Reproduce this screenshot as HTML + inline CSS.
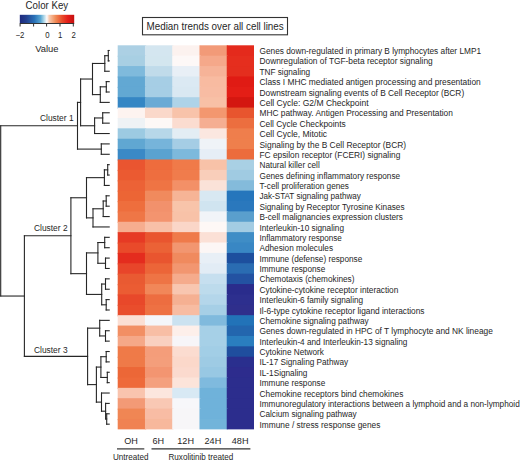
<!DOCTYPE html>
<html><head><meta charset="utf-8"><style>
html,body{margin:0;padding:0;background:#fff;}
body{width:520px;height:462px;overflow:hidden;}
svg{display:block;}
text{font-family:"Liberation Sans",sans-serif;fill:#262626;}
</style></head><body>
<svg width="520" height="462" viewBox="0 0 520 462">
<defs>
<linearGradient id="ck" x1="0" x2="1" y1="0" y2="0">
<stop offset="0" stop-color="#1e2a7e"/>
<stop offset="0.12" stop-color="#23408f"/>
<stop offset="0.27" stop-color="#2a72b8"/>
<stop offset="0.38" stop-color="#58a6d2"/>
<stop offset="0.45" stop-color="#b8dcea"/>
<stop offset="0.49" stop-color="#f4f6f8"/>
<stop offset="0.51" stop-color="#fbeee8"/>
<stop offset="0.54" stop-color="#f8cbb0"/>
<stop offset="0.66" stop-color="#f08a55"/>
<stop offset="0.78" stop-color="#e84a2a"/>
<stop offset="0.88" stop-color="#e41e1a"/>
<stop offset="1" stop-color="#c41010"/>
</linearGradient>
</defs>

<rect x="117.70" y="45.30" width="28.46" height="11.58" fill="#acd0e4"/>
<rect x="144.96" y="45.30" width="28.46" height="11.58" fill="#d4e6f0"/>
<rect x="172.22" y="45.30" width="28.46" height="11.58" fill="#fcf2ef"/>
<rect x="199.48" y="45.30" width="28.46" height="11.58" fill="#f29a78"/>
<rect x="226.74" y="45.30" width="27.26" height="11.58" fill="#e42a1c"/>
<rect x="117.70" y="55.68" width="28.46" height="11.58" fill="#a8cfe3"/>
<rect x="144.96" y="55.68" width="28.46" height="11.58" fill="#d3e6ef"/>
<rect x="172.22" y="55.68" width="28.46" height="11.58" fill="#fdf8f7"/>
<rect x="199.48" y="55.68" width="28.46" height="11.58" fill="#f5a88a"/>
<rect x="226.74" y="55.68" width="27.26" height="11.58" fill="#e52e1e"/>
<rect x="117.70" y="66.06" width="28.46" height="11.58" fill="#7fbadc"/>
<rect x="144.96" y="66.06" width="28.46" height="11.58" fill="#c0dbea"/>
<rect x="172.22" y="66.06" width="28.46" height="11.58" fill="#e8eff6"/>
<rect x="199.48" y="66.06" width="28.46" height="11.58" fill="#f6b398"/>
<rect x="226.74" y="66.06" width="27.26" height="11.58" fill="#e42e1e"/>
<rect x="117.70" y="76.44" width="28.46" height="11.58" fill="#62a8d3"/>
<rect x="144.96" y="76.44" width="28.46" height="11.58" fill="#a6cee5"/>
<rect x="172.22" y="76.44" width="28.46" height="11.58" fill="#dbe9f3"/>
<rect x="199.48" y="76.44" width="28.46" height="11.58" fill="#f8bba1"/>
<rect x="226.74" y="76.44" width="27.26" height="11.58" fill="#e01b14"/>
<rect x="117.70" y="86.82" width="28.46" height="11.58" fill="#62a8d3"/>
<rect x="144.96" y="86.82" width="28.46" height="11.58" fill="#a6cee5"/>
<rect x="172.22" y="86.82" width="28.46" height="11.58" fill="#d9e8f2"/>
<rect x="199.48" y="86.82" width="28.46" height="11.58" fill="#f8bca3"/>
<rect x="226.74" y="86.82" width="27.26" height="11.58" fill="#e31e16"/>
<rect x="117.70" y="97.20" width="28.46" height="11.58" fill="#3586c4"/>
<rect x="144.96" y="97.20" width="28.46" height="11.58" fill="#6aaad5"/>
<rect x="172.22" y="97.20" width="28.46" height="11.58" fill="#aed3e8"/>
<rect x="199.48" y="97.20" width="28.46" height="11.58" fill="#f8c0a6"/>
<rect x="226.74" y="97.20" width="27.26" height="11.58" fill="#d41710"/>
<rect x="117.70" y="107.58" width="28.46" height="11.58" fill="#fdf3f0"/>
<rect x="144.96" y="107.58" width="28.46" height="11.58" fill="#fad8ca"/>
<rect x="172.22" y="107.58" width="28.46" height="11.58" fill="#f8c3aa"/>
<rect x="199.48" y="107.58" width="28.46" height="11.58" fill="#f3976f"/>
<rect x="226.74" y="107.58" width="27.26" height="11.58" fill="#e8552e"/>
<rect x="117.70" y="117.96" width="28.46" height="11.58" fill="#eef2f5"/>
<rect x="144.96" y="117.96" width="28.46" height="11.58" fill="#fdf8f6"/>
<rect x="172.22" y="117.96" width="28.46" height="11.58" fill="#fbdcd0"/>
<rect x="199.48" y="117.96" width="28.46" height="11.58" fill="#f5ae92"/>
<rect x="226.74" y="117.96" width="27.26" height="11.58" fill="#ec6e3f"/>
<rect x="117.70" y="128.34" width="28.46" height="11.58" fill="#9ccae2"/>
<rect x="144.96" y="128.34" width="28.46" height="11.58" fill="#b7d7e9"/>
<rect x="172.22" y="128.34" width="28.46" height="11.58" fill="#e3edf4"/>
<rect x="199.48" y="128.34" width="28.46" height="11.58" fill="#fbe7e0"/>
<rect x="226.74" y="128.34" width="27.26" height="11.58" fill="#ef7e4c"/>
<rect x="117.70" y="138.72" width="28.46" height="11.58" fill="#60a7d2"/>
<rect x="144.96" y="138.72" width="28.46" height="11.58" fill="#76b4da"/>
<rect x="172.22" y="138.72" width="28.46" height="11.58" fill="#a5cde5"/>
<rect x="199.48" y="138.72" width="28.46" height="11.58" fill="#eff3f7"/>
<rect x="226.74" y="138.72" width="27.26" height="11.58" fill="#ef7f4c"/>
<rect x="117.70" y="149.10" width="28.46" height="11.58" fill="#3a89c6"/>
<rect x="144.96" y="149.10" width="28.46" height="11.58" fill="#5aa2d0"/>
<rect x="172.22" y="149.10" width="28.46" height="11.58" fill="#7db9dc"/>
<rect x="199.48" y="149.10" width="28.46" height="11.58" fill="#e6eef6"/>
<rect x="226.74" y="149.10" width="27.26" height="11.58" fill="#ec6c3c"/>
<rect x="117.70" y="159.48" width="28.46" height="11.58" fill="#ea5530"/>
<rect x="144.96" y="159.48" width="28.46" height="11.58" fill="#ee6c3d"/>
<rect x="172.22" y="159.48" width="28.46" height="11.58" fill="#f07a49"/>
<rect x="199.48" y="159.48" width="28.46" height="11.58" fill="#f8c2a8"/>
<rect x="226.74" y="159.48" width="27.26" height="11.58" fill="#a9d0e4"/>
<rect x="117.70" y="169.86" width="28.46" height="11.58" fill="#eb5a31"/>
<rect x="144.96" y="169.86" width="28.46" height="11.58" fill="#ee6e3f"/>
<rect x="172.22" y="169.86" width="28.46" height="11.58" fill="#f07c4c"/>
<rect x="199.48" y="169.86" width="28.46" height="11.58" fill="#f9ceba"/>
<rect x="226.74" y="169.86" width="27.26" height="11.58" fill="#a0cbe2"/>
<rect x="117.70" y="180.24" width="28.46" height="11.58" fill="#ec6236"/>
<rect x="144.96" y="180.24" width="28.46" height="11.58" fill="#ef7444"/>
<rect x="172.22" y="180.24" width="28.46" height="11.58" fill="#f39067"/>
<rect x="199.48" y="180.24" width="28.46" height="11.58" fill="#fae2d8"/>
<rect x="226.74" y="180.24" width="27.26" height="11.58" fill="#84bbdb"/>
<rect x="117.70" y="190.62" width="28.46" height="11.58" fill="#ec6535"/>
<rect x="144.96" y="190.62" width="28.46" height="11.58" fill="#f08a5d"/>
<rect x="172.22" y="190.62" width="28.46" height="11.58" fill="#f6b496"/>
<rect x="199.48" y="190.62" width="28.46" height="11.58" fill="#d8e8f2"/>
<rect x="226.74" y="190.62" width="27.26" height="11.58" fill="#2676bc"/>
<rect x="117.70" y="201.00" width="28.46" height="11.58" fill="#ee6e3d"/>
<rect x="144.96" y="201.00" width="28.46" height="11.58" fill="#f2916c"/>
<rect x="172.22" y="201.00" width="28.46" height="11.58" fill="#f8c4aa"/>
<rect x="199.48" y="201.00" width="28.46" height="11.58" fill="#d0e4f0"/>
<rect x="226.74" y="201.00" width="27.26" height="11.58" fill="#2a78bd"/>
<rect x="117.70" y="211.38" width="28.46" height="11.58" fill="#ef7646"/>
<rect x="144.96" y="211.38" width="28.46" height="11.58" fill="#f3946f"/>
<rect x="172.22" y="211.38" width="28.46" height="11.58" fill="#f8c2a8"/>
<rect x="199.48" y="211.38" width="28.46" height="11.58" fill="#f1f4f8"/>
<rect x="226.74" y="211.38" width="27.26" height="11.58" fill="#5a9fcd"/>
<rect x="117.70" y="221.76" width="28.46" height="11.58" fill="#f6ad8f"/>
<rect x="144.96" y="221.76" width="28.46" height="11.58" fill="#f8c0a8"/>
<rect x="172.22" y="221.76" width="28.46" height="11.58" fill="#fad6c8"/>
<rect x="199.48" y="221.76" width="28.46" height="11.58" fill="#fef8f6"/>
<rect x="226.74" y="221.76" width="27.26" height="11.58" fill="#a3cce3"/>
<rect x="117.70" y="232.14" width="28.46" height="11.58" fill="#e63a24"/>
<rect x="144.96" y="232.14" width="28.46" height="11.58" fill="#e9552f"/>
<rect x="172.22" y="232.14" width="28.46" height="11.58" fill="#ef7a4a"/>
<rect x="199.48" y="232.14" width="28.46" height="11.58" fill="#fbe0d6"/>
<rect x="226.74" y="232.14" width="27.26" height="11.58" fill="#3f8dc6"/>
<rect x="117.70" y="242.52" width="28.46" height="11.58" fill="#e94a2a"/>
<rect x="144.96" y="242.52" width="28.46" height="11.58" fill="#eb6236"/>
<rect x="172.22" y="242.52" width="28.46" height="11.58" fill="#f29670"/>
<rect x="199.48" y="242.52" width="28.46" height="11.58" fill="#fcf6f5"/>
<rect x="226.74" y="242.52" width="27.26" height="11.58" fill="#3987c4"/>
<rect x="117.70" y="252.90" width="28.46" height="11.58" fill="#e42c1e"/>
<rect x="144.96" y="252.90" width="28.46" height="11.58" fill="#e9552f"/>
<rect x="172.22" y="252.90" width="28.46" height="11.58" fill="#f08a5e"/>
<rect x="199.48" y="252.90" width="28.46" height="11.58" fill="#e8eff6"/>
<rect x="226.74" y="252.90" width="27.26" height="11.58" fill="#1d4f9e"/>
<rect x="117.70" y="263.28" width="28.46" height="11.58" fill="#e8452a"/>
<rect x="144.96" y="263.28" width="28.46" height="11.58" fill="#ec6538"/>
<rect x="172.22" y="263.28" width="28.46" height="11.58" fill="#f29670"/>
<rect x="199.48" y="263.28" width="28.46" height="11.58" fill="#e2ecf5"/>
<rect x="226.74" y="263.28" width="27.26" height="11.58" fill="#2a6cb2"/>
<rect x="117.70" y="273.66" width="28.46" height="11.58" fill="#e95a32"/>
<rect x="144.96" y="273.66" width="28.46" height="11.58" fill="#ee7445"/>
<rect x="172.22" y="273.66" width="28.46" height="11.58" fill="#f5ab8c"/>
<rect x="199.48" y="273.66" width="28.46" height="11.58" fill="#c6dfef"/>
<rect x="226.74" y="273.66" width="27.26" height="11.58" fill="#2352a2"/>
<rect x="117.70" y="284.04" width="28.46" height="11.58" fill="#eb5c33"/>
<rect x="144.96" y="284.04" width="28.46" height="11.58" fill="#f18759"/>
<rect x="172.22" y="284.04" width="28.46" height="11.58" fill="#f8c6b0"/>
<rect x="199.48" y="284.04" width="28.46" height="11.58" fill="#bddbec"/>
<rect x="226.74" y="284.04" width="27.26" height="11.58" fill="#2a2c8c"/>
<rect x="117.70" y="294.42" width="28.46" height="11.58" fill="#e8482a"/>
<rect x="144.96" y="294.42" width="28.46" height="11.58" fill="#ed6d40"/>
<rect x="172.22" y="294.42" width="28.46" height="11.58" fill="#f5b092"/>
<rect x="199.48" y="294.42" width="28.46" height="11.58" fill="#b4d6ea"/>
<rect x="226.74" y="294.42" width="27.26" height="11.58" fill="#2d2f8e"/>
<rect x="117.70" y="304.80" width="28.46" height="11.58" fill="#e94d2c"/>
<rect x="144.96" y="304.80" width="28.46" height="11.58" fill="#ee7143"/>
<rect x="172.22" y="304.80" width="28.46" height="11.58" fill="#f7bca2"/>
<rect x="199.48" y="304.80" width="28.46" height="11.58" fill="#a6cfe6"/>
<rect x="226.74" y="304.80" width="27.26" height="11.58" fill="#2f2f8c"/>
<rect x="117.70" y="315.18" width="28.46" height="11.58" fill="#fbdfd4"/>
<rect x="144.96" y="315.18" width="28.46" height="11.58" fill="#f4f6fa"/>
<rect x="172.22" y="315.18" width="28.46" height="11.58" fill="#cbe2f0"/>
<rect x="199.48" y="315.18" width="28.46" height="11.58" fill="#80badd"/>
<rect x="226.74" y="315.18" width="27.26" height="11.58" fill="#2273b8"/>
<rect x="117.70" y="325.56" width="28.46" height="11.58" fill="#f28f64"/>
<rect x="144.96" y="325.56" width="28.46" height="11.58" fill="#f8bea5"/>
<rect x="172.22" y="325.56" width="28.46" height="11.58" fill="#fdefea"/>
<rect x="199.48" y="325.56" width="28.46" height="11.58" fill="#a6d0e7"/>
<rect x="226.74" y="325.56" width="27.26" height="11.58" fill="#2366ae"/>
<rect x="117.70" y="335.94" width="28.46" height="11.58" fill="#f5a888"/>
<rect x="144.96" y="335.94" width="28.46" height="11.58" fill="#f9d0c0"/>
<rect x="172.22" y="335.94" width="28.46" height="11.58" fill="#f7f5f8"/>
<rect x="199.48" y="335.94" width="28.46" height="11.58" fill="#a6d0e7"/>
<rect x="226.74" y="335.94" width="27.26" height="11.58" fill="#2a7ebf"/>
<rect x="117.70" y="346.32" width="28.46" height="11.58" fill="#ef7a48"/>
<rect x="144.96" y="346.32" width="28.46" height="11.58" fill="#f49d7a"/>
<rect x="172.22" y="346.32" width="28.46" height="11.58" fill="#fbdcd0"/>
<rect x="199.48" y="346.32" width="28.46" height="11.58" fill="#a2cee6"/>
<rect x="226.74" y="346.32" width="27.26" height="11.58" fill="#1f4e9e"/>
<rect x="117.70" y="356.70" width="28.46" height="11.58" fill="#ef7a48"/>
<rect x="144.96" y="356.70" width="28.46" height="11.58" fill="#f49e7b"/>
<rect x="172.22" y="356.70" width="28.46" height="11.58" fill="#fbd8ca"/>
<rect x="199.48" y="356.70" width="28.46" height="11.58" fill="#9ecbe4"/>
<rect x="226.74" y="356.70" width="27.26" height="11.58" fill="#2a2f8e"/>
<rect x="117.70" y="367.08" width="28.46" height="11.58" fill="#ec6737"/>
<rect x="144.96" y="367.08" width="28.46" height="11.58" fill="#f39571"/>
<rect x="172.22" y="367.08" width="28.46" height="11.58" fill="#fbdace"/>
<rect x="199.48" y="367.08" width="28.46" height="11.58" fill="#98c8e3"/>
<rect x="226.74" y="367.08" width="27.26" height="11.58" fill="#2d2c8d"/>
<rect x="117.70" y="377.46" width="28.46" height="11.58" fill="#ee6a3a"/>
<rect x="144.96" y="377.46" width="28.46" height="11.58" fill="#f4a07e"/>
<rect x="172.22" y="377.46" width="28.46" height="11.58" fill="#fce4da"/>
<rect x="199.48" y="377.46" width="28.46" height="11.58" fill="#7fbade"/>
<rect x="226.74" y="377.46" width="27.26" height="11.58" fill="#2c2d8d"/>
<rect x="117.70" y="387.84" width="28.46" height="11.58" fill="#f9c4ae"/>
<rect x="144.96" y="387.84" width="28.46" height="11.58" fill="#fce6de"/>
<rect x="172.22" y="387.84" width="28.46" height="11.58" fill="#d8e9f4"/>
<rect x="199.48" y="387.84" width="28.46" height="11.58" fill="#6fb2da"/>
<rect x="226.74" y="387.84" width="27.26" height="11.58" fill="#2c2d8d"/>
<rect x="117.70" y="398.22" width="28.46" height="11.58" fill="#f39a76"/>
<rect x="144.96" y="398.22" width="28.46" height="11.58" fill="#f9c8b4"/>
<rect x="172.22" y="398.22" width="28.46" height="11.58" fill="#f7f7fa"/>
<rect x="199.48" y="398.22" width="28.46" height="11.58" fill="#6fb2da"/>
<rect x="226.74" y="398.22" width="27.26" height="11.58" fill="#2c2d8d"/>
<rect x="117.70" y="408.60" width="28.46" height="11.58" fill="#f08654"/>
<rect x="144.96" y="408.60" width="28.46" height="11.58" fill="#f8bca4"/>
<rect x="172.22" y="408.60" width="28.46" height="11.58" fill="#f7f6f8"/>
<rect x="199.48" y="408.60" width="28.46" height="11.58" fill="#6fb2da"/>
<rect x="226.74" y="408.60" width="27.26" height="11.58" fill="#2c2d8d"/>
<rect x="117.70" y="418.98" width="28.46" height="10.38" fill="#f08252"/>
<rect x="144.96" y="418.98" width="28.46" height="10.38" fill="#f7b89c"/>
<rect x="172.22" y="418.98" width="28.46" height="10.38" fill="#f7f6f8"/>
<rect x="199.48" y="418.98" width="28.46" height="10.38" fill="#72b4da"/>
<rect x="226.74" y="418.98" width="27.26" height="10.38" fill="#2c2d8d"/>
<g font-size="8.22">
<text transform="translate(259.5 54.09) scale(1 1.08)" textLength="221.56" lengthAdjust="spacingAndGlyphs">Genes down-regulated in primary B lymphocytes after LMP1</text>
<text transform="translate(259.5 64.47) scale(1 1.08)" textLength="173.24" lengthAdjust="spacingAndGlyphs">Downregulation of TGF-beta receptor signaling</text>
<text transform="translate(259.5 74.85) scale(1 1.08)">TNF signaling</text>
<text transform="translate(259.5 85.23) scale(1 1.08)" textLength="221.26" lengthAdjust="spacingAndGlyphs">Class I MHC mediated antigen processing and presentation</text>
<text transform="translate(259.5 95.61) scale(1 1.08)" textLength="204.68" lengthAdjust="spacingAndGlyphs">Downstream signaling events of B Cell Receptor (BCR)</text>
<text transform="translate(259.5 105.99) scale(1 1.08)" textLength="109.07" lengthAdjust="spacingAndGlyphs">Cell Cycle: G2/M Checkpoint</text>
<text transform="translate(259.5 116.37) scale(1 1.08)" textLength="193.39" lengthAdjust="spacingAndGlyphs">MHC pathway. Antigen Processing and Presentation</text>
<text transform="translate(259.5 126.75) scale(1 1.08)" textLength="86.33" lengthAdjust="spacingAndGlyphs">Cell Cycle Checkpoints</text>
<text transform="translate(259.5 137.13) scale(1 1.08)" textLength="67.56" lengthAdjust="spacingAndGlyphs">Cell Cycle, Mitotic</text>
<text transform="translate(259.5 147.51) scale(1 1.08)" textLength="146.67" lengthAdjust="spacingAndGlyphs">Signaling by the B Cell Receptor (BCR)</text>
<text transform="translate(259.5 157.89) scale(1 1.08)" textLength="140.79" lengthAdjust="spacingAndGlyphs">FC epsilon receptor (FCERI) signaling</text>
<text transform="translate(259.5 168.27) scale(1 1.08)">Natural killer cell</text>
<text transform="translate(259.5 178.65) scale(1 1.08)">Genes defining inflammatory response</text>
<text transform="translate(259.5 189.03) scale(1 1.08)">T-cell proliferation genes</text>
<text transform="translate(259.5 199.41) scale(1 1.08)" textLength="101.29" lengthAdjust="spacingAndGlyphs">Jak-STAT signaling pathway</text>
<text transform="translate(259.5 209.79) scale(1 1.08)">Signaling by Receptor Tyrosine Kinases</text>
<text transform="translate(259.5 220.17) scale(1 1.08)">B-cell malignancies expression clusters</text>
<text transform="translate(259.5 230.55) scale(1 1.08)">Interleukin-10 signaling</text>
<text transform="translate(259.5 240.93) scale(1 1.08)" textLength="82.30" lengthAdjust="spacingAndGlyphs">Inflammatory response</text>
<text transform="translate(259.5 251.31) scale(1 1.08)">Adhesion molecules</text>
<text transform="translate(259.5 261.69) scale(1 1.08)">Immune (defense) response</text>
<text transform="translate(259.5 272.07) scale(1 1.08)">Immune response</text>
<text transform="translate(259.5 282.45) scale(1 1.08)">Chemotaxis (chemokines)</text>
<text transform="translate(259.5 292.83) scale(1 1.08)" textLength="138.83" lengthAdjust="spacingAndGlyphs">Cytokine-cytokine receptor interaction</text>
<text transform="translate(259.5 303.21) scale(1 1.08)">Interleukin-6 family signaling</text>
<text transform="translate(259.5 313.59) scale(1 1.08)" textLength="165.02" lengthAdjust="spacingAndGlyphs">Il-6-type cytokine receptor ligand interactions</text>
<text transform="translate(259.5 323.97) scale(1 1.08)">Chemokine signaling pathway</text>
<text transform="translate(259.5 334.35) scale(1 1.08)" textLength="233.30" lengthAdjust="spacingAndGlyphs">Genes down-regulated in HPC of T lymphocyte and NK lineage</text>
<text transform="translate(259.5 344.73) scale(1 1.08)">Interleukin-4 and Interleukin-13 signaling</text>
<text transform="translate(259.5 355.11) scale(1 1.08)">Cytokine Network</text>
<text transform="translate(259.5 365.49) scale(1 1.08)">IL-17 Signaling Pathway</text>
<text transform="translate(259.5 375.87) scale(1 1.08)">IL-1Signaling</text>
<text transform="translate(259.5 386.25) scale(1 1.08)">Immune response</text>
<text transform="translate(259.5 396.63) scale(1 1.08)" textLength="143.81" lengthAdjust="spacingAndGlyphs">Chemokine receptors bind chemokines</text>
<text transform="translate(259.5 407.01) scale(1 1.08)">Immunoregulatory interactions between a lymphoid and a non-lymphoid</text>
<text transform="translate(259.5 417.39) scale(1 1.08)">Calcium signaling pathway</text>
<text transform="translate(259.5 427.77) scale(1 1.08)" textLength="120.86" lengthAdjust="spacingAndGlyphs">Immune / stress response genes</text>
</g>
<g stroke="#262626" stroke-width="1.1" fill="none" stroke-linecap="square">
<line x1="0.70" y1="125.75" x2="0.70" y2="296.04"/>
<line x1="0.70" y1="125.75" x2="77.50" y2="125.75"/>
<line x1="0.70" y1="296.04" x2="24.40" y2="296.04"/>
<line x1="77.50" y1="102.39" x2="77.50" y2="149.10"/>
<line x1="77.50" y1="102.39" x2="80.60" y2="102.39"/>
<line x1="77.50" y1="149.10" x2="101.30" y2="149.10"/>
<line x1="80.60" y1="79.03" x2="80.60" y2="125.75"/>
<line x1="80.60" y1="79.03" x2="92.50" y2="79.03"/>
<line x1="80.60" y1="125.75" x2="94.60" y2="125.75"/>
<line x1="92.50" y1="63.46" x2="92.50" y2="94.60"/>
<line x1="92.50" y1="63.46" x2="104.80" y2="63.46"/>
<line x1="92.50" y1="94.60" x2="100.30" y2="94.60"/>
<line x1="104.80" y1="55.68" x2="104.80" y2="71.25"/>
<line x1="104.80" y1="55.68" x2="108.30" y2="55.68"/>
<line x1="104.80" y1="71.25" x2="109.20" y2="71.25"/>
<line x1="108.30" y1="50.49" x2="108.30" y2="60.87"/>
<line x1="108.30" y1="50.49" x2="109.20" y2="50.49"/>
<line x1="108.30" y1="60.87" x2="109.20" y2="60.87"/>
<line x1="100.30" y1="86.82" x2="100.30" y2="102.39"/>
<line x1="100.30" y1="86.82" x2="106.30" y2="86.82"/>
<line x1="100.30" y1="102.39" x2="109.20" y2="102.39"/>
<line x1="106.30" y1="81.63" x2="106.30" y2="92.01"/>
<line x1="106.30" y1="81.63" x2="109.20" y2="81.63"/>
<line x1="106.30" y1="92.01" x2="109.20" y2="92.01"/>
<line x1="94.60" y1="117.96" x2="94.60" y2="133.53"/>
<line x1="94.60" y1="117.96" x2="102.70" y2="117.96"/>
<line x1="94.60" y1="133.53" x2="109.20" y2="133.53"/>
<line x1="102.70" y1="112.77" x2="102.70" y2="123.15"/>
<line x1="102.70" y1="112.77" x2="109.20" y2="112.77"/>
<line x1="102.70" y1="123.15" x2="109.20" y2="123.15"/>
<line x1="101.30" y1="143.91" x2="101.30" y2="154.29"/>
<line x1="101.30" y1="143.91" x2="109.20" y2="143.91"/>
<line x1="101.30" y1="154.29" x2="109.20" y2="154.29"/>
<line x1="24.40" y1="235.71" x2="24.40" y2="356.38"/>
<line x1="24.40" y1="235.71" x2="70.90" y2="235.71"/>
<line x1="24.40" y1="356.38" x2="87.60" y2="356.38"/>
<line x1="70.90" y1="197.76" x2="70.90" y2="273.66"/>
<line x1="70.90" y1="197.76" x2="86.50" y2="197.76"/>
<line x1="70.90" y1="273.66" x2="86.50" y2="273.66"/>
<line x1="86.50" y1="177.65" x2="86.50" y2="217.87"/>
<line x1="86.50" y1="177.65" x2="104.40" y2="177.65"/>
<line x1="86.50" y1="217.87" x2="93.00" y2="217.87"/>
<line x1="104.40" y1="169.86" x2="104.40" y2="185.43"/>
<line x1="104.40" y1="169.86" x2="107.70" y2="169.86"/>
<line x1="104.40" y1="185.43" x2="109.20" y2="185.43"/>
<line x1="107.70" y1="164.67" x2="107.70" y2="175.05"/>
<line x1="107.70" y1="164.67" x2="109.20" y2="164.67"/>
<line x1="107.70" y1="175.05" x2="109.20" y2="175.05"/>
<line x1="93.00" y1="208.78" x2="93.00" y2="226.95"/>
<line x1="93.00" y1="208.78" x2="103.20" y2="208.78"/>
<line x1="93.00" y1="226.95" x2="109.20" y2="226.95"/>
<line x1="103.20" y1="201.00" x2="103.20" y2="216.57"/>
<line x1="103.20" y1="201.00" x2="106.20" y2="201.00"/>
<line x1="103.20" y1="216.57" x2="109.20" y2="216.57"/>
<line x1="106.20" y1="195.81" x2="106.20" y2="206.19"/>
<line x1="106.20" y1="195.81" x2="109.20" y2="195.81"/>
<line x1="106.20" y1="206.19" x2="109.20" y2="206.19"/>
<line x1="86.50" y1="252.90" x2="86.50" y2="294.42"/>
<line x1="86.50" y1="252.90" x2="97.90" y2="252.90"/>
<line x1="86.50" y1="294.42" x2="101.70" y2="294.42"/>
<line x1="97.90" y1="242.52" x2="97.90" y2="263.28"/>
<line x1="97.90" y1="242.52" x2="104.70" y2="242.52"/>
<line x1="97.90" y1="263.28" x2="105.50" y2="263.28"/>
<line x1="104.70" y1="237.33" x2="104.70" y2="247.71"/>
<line x1="104.70" y1="237.33" x2="109.20" y2="237.33"/>
<line x1="104.70" y1="247.71" x2="109.20" y2="247.71"/>
<line x1="105.50" y1="258.09" x2="105.50" y2="268.47"/>
<line x1="105.50" y1="258.09" x2="109.20" y2="258.09"/>
<line x1="105.50" y1="268.47" x2="109.20" y2="268.47"/>
<line x1="101.70" y1="284.04" x2="101.70" y2="304.80"/>
<line x1="101.70" y1="284.04" x2="105.50" y2="284.04"/>
<line x1="101.70" y1="304.80" x2="106.20" y2="304.80"/>
<line x1="105.50" y1="278.85" x2="105.50" y2="289.23"/>
<line x1="105.50" y1="278.85" x2="109.20" y2="278.85"/>
<line x1="105.50" y1="289.23" x2="109.20" y2="289.23"/>
<line x1="106.20" y1="299.61" x2="106.20" y2="309.99"/>
<line x1="106.20" y1="299.61" x2="109.20" y2="299.61"/>
<line x1="106.20" y1="309.99" x2="109.20" y2="309.99"/>
<line x1="87.60" y1="328.16" x2="87.60" y2="384.60"/>
<line x1="87.60" y1="328.16" x2="99.70" y2="328.16"/>
<line x1="87.60" y1="384.60" x2="96.40" y2="384.60"/>
<line x1="99.70" y1="320.37" x2="99.70" y2="335.94"/>
<line x1="99.70" y1="320.37" x2="109.20" y2="320.37"/>
<line x1="99.70" y1="335.94" x2="105.50" y2="335.94"/>
<line x1="105.50" y1="330.75" x2="105.50" y2="341.13"/>
<line x1="105.50" y1="330.75" x2="109.20" y2="330.75"/>
<line x1="105.50" y1="341.13" x2="109.20" y2="341.13"/>
<line x1="96.40" y1="367.08" x2="96.40" y2="402.11"/>
<line x1="96.40" y1="367.08" x2="100.90" y2="367.08"/>
<line x1="96.40" y1="402.11" x2="101.50" y2="402.11"/>
<line x1="100.90" y1="356.70" x2="100.90" y2="377.46"/>
<line x1="100.90" y1="356.70" x2="106.20" y2="356.70"/>
<line x1="100.90" y1="377.46" x2="107.30" y2="377.46"/>
<line x1="106.20" y1="351.51" x2="106.20" y2="361.89"/>
<line x1="106.20" y1="351.51" x2="109.20" y2="351.51"/>
<line x1="106.20" y1="361.89" x2="109.20" y2="361.89"/>
<line x1="107.30" y1="372.27" x2="107.30" y2="382.65"/>
<line x1="107.30" y1="372.27" x2="109.20" y2="372.27"/>
<line x1="107.30" y1="382.65" x2="109.20" y2="382.65"/>
<line x1="101.50" y1="393.03" x2="101.50" y2="411.20"/>
<line x1="101.50" y1="393.03" x2="109.20" y2="393.03"/>
<line x1="101.50" y1="411.20" x2="105.60" y2="411.20"/>
<line x1="105.60" y1="403.41" x2="105.60" y2="418.98"/>
<line x1="105.60" y1="403.41" x2="109.20" y2="403.41"/>
<line x1="105.60" y1="418.98" x2="106.70" y2="418.98"/>
<line x1="106.70" y1="413.79" x2="106.70" y2="424.17"/>
<line x1="106.70" y1="413.79" x2="109.20" y2="413.79"/>
<line x1="106.70" y1="424.17" x2="109.20" y2="424.17"/>
</g>
<g font-size="8.4">
<text transform="translate(40 120.9) scale(1 1.1)">Cluster 1</text>
<text transform="translate(34 230.8) scale(1 1.1)">Cluster 2</text>
<text transform="translate(34 353.1) scale(1 1.1)">Cluster 3</text>
</g>
<rect x="142.5" y="17.5" width="145" height="17.3" fill="none" stroke="#333" stroke-width="1.1"/>
<text transform="translate(146.5 29.7) scale(1 1.14)" font-size="9.85">Median trends over all cell lines</text>
<text transform="translate(25.6 8.7) scale(1 1.07)" font-size="9.7">Color Key</text>
<rect x="19.8" y="14.8" width="54.4" height="8.5" fill="url(#ck)"/>
<g stroke="#333" stroke-width="1"><line x1="19.8" y1="23.5" x2="74.2" y2="23.5"/>
<line x1="20.1" y1="23.5" x2="20.1" y2="26.5"/>
<line x1="33.6" y1="23.5" x2="33.6" y2="26.5"/>
<line x1="46.6" y1="23.5" x2="46.6" y2="26.5"/>
<line x1="60" y1="23.5" x2="60" y2="26.5"/>
<line x1="73.3" y1="23.5" x2="73.3" y2="26.5"/>
</g>
<g font-size="7.8" text-anchor="middle"><text transform="translate(20 38) scale(1 1.13)">−2</text><text transform="translate(47.3 38) scale(1 1.13)">0</text><text transform="translate(60.2 38) scale(1 1.13)">1</text><text transform="translate(73.6 38) scale(1 1.13)">2</text></g>
<text transform="translate(35.2 52) scale(1 1.06)" font-size="9.4">Value</text>
<g font-size="9.1" text-anchor="middle">
<text x="131.13" y="443.9">OH</text>
<text x="158.39" y="443.9">6H</text>
<text x="185.65" y="443.9">12H</text>
<text x="212.91" y="443.9">24H</text>
<text x="240.17" y="443.9">48H</text>
</g>
<g stroke="#333" stroke-width="1.2"><line x1="117" y1="448.9" x2="144.3" y2="448.9"/><line x1="151.5" y1="448.9" x2="250.4" y2="448.9"/></g>
<text transform="translate(113 459.8) scale(1 1.08)" font-size="8.1">Untreated</text>
<text transform="translate(168.5 459.8) scale(1 1.08)" font-size="8.1">Ruxolitinib treated</text>
</svg></body></html>
